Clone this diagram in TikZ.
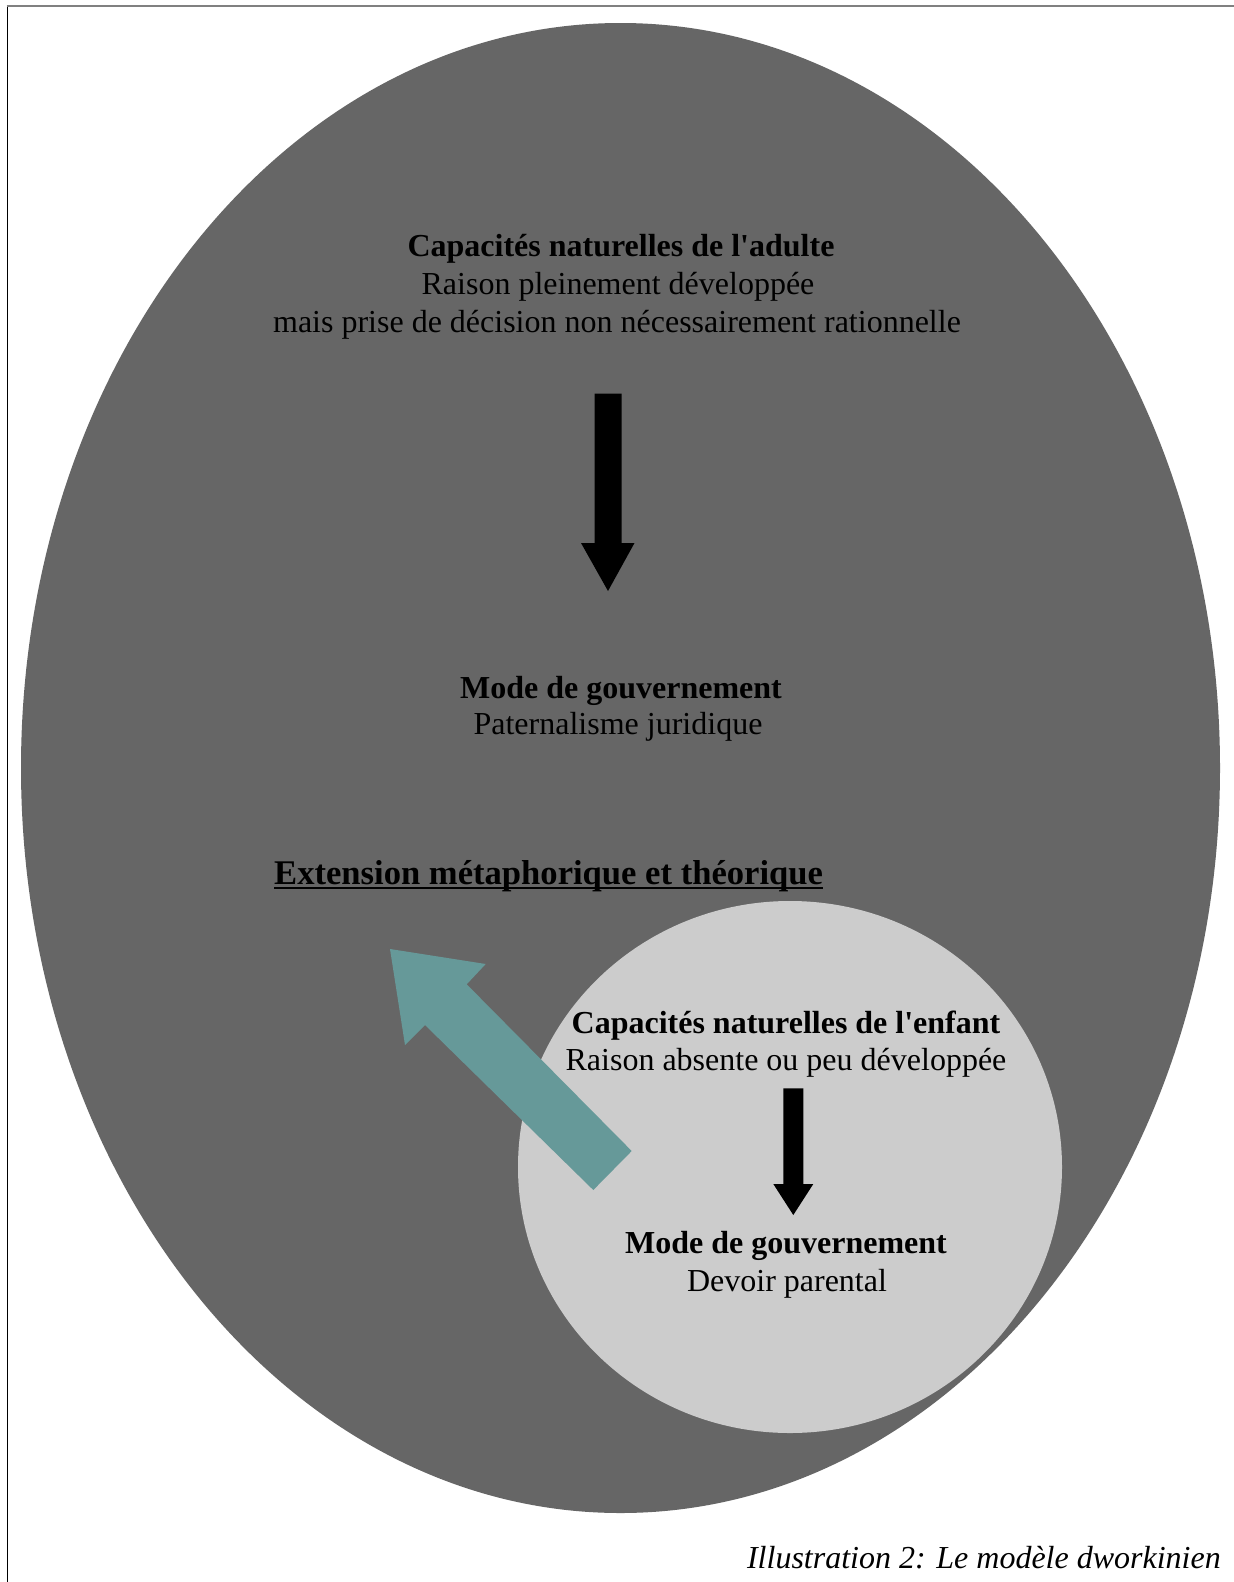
\documentclass[tikz,border=0pt]{standalone}
\usepackage{fontspec}
\setmainfont{Liberation Serif}
\definecolor{darkg}{HTML}{666666}
\definecolor{lightg}{HTML}{CCCCCC}
\definecolor{teal}{HTML}{669999}
\definecolor{rulegray}{HTML}{808080}
\begin{document}
\begin{tikzpicture}[x=1pt,y=-1pt,
  txt/.style={anchor=base, inner sep=0pt, font=\fontsize{32}{38}\selectfont},
  btxt/.style={anchor=base, inner sep=0pt, font=\fontsize{32}{38}\selectfont\bfseries},
  captxt/.style={anchor=base east, inner sep=0pt, font=\fontsize{32}{38}\selectfont\itshape}]
\useasboundingbox (0,0) rectangle (1234,1582);
\fill[white] (0,0) rectangle (1234,1582);
% page rules
\draw[black, line width=1.2pt] (7.3,5) -- (7.3,1582);
\draw[rulegray, line width=2pt] (6.7,5.7) -- (1234,5.7);
% big ellipse
\fill[darkg] (620.5,768) ellipse [x radius=599.5, y radius=745];
% small circle
\fill[lightg] (790,1167) ellipse [x radius=272, y radius=266];
% big black arrow
\fill[black] (594.5,393.5) -- (621.5,393.5) -- (621.5,543) -- (634.5,543)
  -- (608,591) -- (581,543) -- (594.5,543) -- cycle;
% small black arrow
\fill[black] (783.3,1088.3) -- (803.3,1088.3) -- (803.3,1184) -- (813.3,1184)
  -- (793.3,1215) -- (773.3,1184) -- (783.3,1184) -- cycle;
% teal arrow
\fill[teal] (390,949) -- (485.7,964) -- (466.7,984.3) -- (631.7,1151)
  -- (593.3,1190) -- (425,1025) -- (405,1045) -- cycle;
% texts
\node[btxt] (a1) at (621,256) {Capacités naturelles de l\textquotesingle adulte};
\node[txt] (a2) at (618,294) {Raison pleinement développée};
\node[txt] (a3) at (617,332) {mais prise de décision non nécessairement rationnelle};
\node[btxt] (m1) at (621,698) {Mode de gouvernement};
\node[txt] (m2) at (618,734) {Paternalisme juridique};
\node[btxt, anchor=base west, font=\fontsize{34.6}{40}\selectfont\bfseries] (ext) at (274,884) {Extension métaphorique et théorique};
\draw[black, line width=2.4pt] ([yshift=-4pt]ext.base west) -- ([yshift=-4pt]ext.base east);
\node[btxt] (e1) at (786,1033) {Capacités naturelles de l\textquotesingle enfant};
\node[txt] (e2) at (786,1070) {Raison absente ou peu développée};
\node[btxt] (g1) at (786,1253) {Mode de gouvernement};
\node[txt] (g2) at (787,1291) {Devoir parental};
\node[captxt] (cap) at (1221,1568) {Illustration 2: Le modèle dworkinien};
\end{tikzpicture}
\end{document}
